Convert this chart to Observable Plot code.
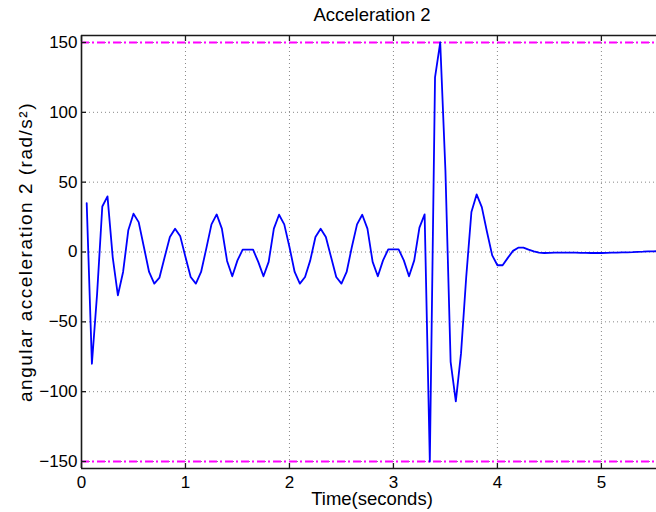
<!DOCTYPE html>
<html>
<head>
<meta charset="utf-8">
<script src="https://cdn.jsdelivr.net/npm/d3@7"></script>
<script src="https://cdn.jsdelivr.net/npm/@observablehq/plot@0.6"></script>
<style>
  html, body { margin: 0; padding: 0; background: white; }
</style>
</head>
<body>
<div id="chart"></div>
<script>
const titleText = "Acceleration 2";
const xLabel = "Time(seconds)";
const yLabel = "angular acceleration 2 (rad/s²)";

const xTicks = [0, 1, 2, 3, 4, 5];
const yTicks = [-150, -100, -50, 0, 50, 100, 150];
const xDomain = [0, 5.53];
const yDomain = [-155, 155];
const limits = [-150, 150];

const times = [
  0.05, 0.10, 0.15, 0.20, 0.25, 0.30, 0.35, 0.40, 0.45, 0.50,
  0.55, 0.60, 0.65, 0.70, 0.75, 0.80, 0.85, 0.90, 0.95, 1.00,
  1.05, 1.10, 1.15, 1.20, 1.25, 1.30, 1.35, 1.40, 1.45, 1.50,
  1.55, 1.60, 1.65, 1.70, 1.75, 1.80, 1.85, 1.90, 1.95, 2.00,
  2.05, 2.10, 2.15, 2.20, 2.25, 2.30, 2.35, 2.40, 2.45, 2.50,
  2.55, 2.60, 2.65, 2.70, 2.75, 2.80, 2.85, 2.90, 2.95, 3.00,
  3.05, 3.10, 3.15, 3.20, 3.25, 3.30, 3.35, 3.40, 3.45, 3.50,
  3.55, 3.60, 3.65, 3.70, 3.75, 3.80, 3.85, 3.90, 3.95, 4.00,
  4.05, 4.10, 4.15, 4.20, 4.25, 4.30, 4.35, 4.40, 4.45, 4.50,
  4.55, 4.60, 4.65, 4.70, 4.75, 4.80, 4.85, 4.90, 4.95, 5.00,
  5.05, 5.10, 5.15, 5.20, 5.25, 5.30, 5.35, 5.40, 5.45, 5.50,
  5.55
];
const accel = [
  35, -80, -30, 32.6, 39.8, -3.6, -31, -14.3, 15.5, 27.4,
  21.4, 3.6, -14.3, -22.6, -18.3, -3.6, 10.7, 16.7, 11.2, -3.6,
  -17.9, -22.6, -14.3, 2.4, 19.8, 26.9, 16.7, -6.4, -17.4, -6,
  1.7, 1.7, 1.7, -7.1, -17.4, -7.1, 16.7, 26.7, 19.8, 3.6,
  -14.3, -22.6, -17.9, -6, 10.7, 16.7, 10.7, -3.6, -17.9, -22.6,
  -14.3, 3.6, 19.8, 26.7, 16.7, -7.1, -17.4, -6, 1.9, 1.9,
  1.9, -6, -17.4, -6, 17.4, 26.9, -150, 125, 150, 58.3,
  -78.6, -107, -72.6, -17.9, 28.6, 41.2, 32.1, 14.3, -2.4, -9.5,
  -9.5, -4.2, 0.8, 3.1, 3.1, 1.7, 0.5, -0.4, -0.7, -0.6,
  -0.5, -0.4, -0.4, -0.4, -0.5, -0.6, -0.6, -0.7, -0.7, -0.7,
  -0.6, -0.5, -0.4, -0.3, -0.2, -0.1, 0.1, 0.2, 0.4, 0.5,
  0.6
];

const rows = times.map((t, i) => ({t, a: accel[i]}));
const fmt = d => d < 0 ? "\u2212" + Math.abs(d) : String(d);
const axisColor = "#1a1a1a";

const chart = Plot.plot({
  width: 656,
  height: 512,
  marginLeft: 81,
  marginRight: 0,
  marginTop: 35,
  marginBottom: 44,
  style: {fontFamily: "'Liberation Sans', Arial, Helvetica, sans-serif", fontSize: "17px", background: "white", color: "black", overflow: "visible"},
  x: {domain: xDomain, ticks: xTicks},
  y: {domain: yDomain, ticks: yTicks},
  marks: [
    Plot.gridX(xTicks, {stroke: "#888", strokeOpacity: 1, strokeWidth: 1, strokeDasharray: "1,3"}),
    Plot.gridY(yTicks, {stroke: "#888", strokeOpacity: 1, strokeWidth: 1, strokeDasharray: "1,3"}),
    Plot.ruleY(limits, {stroke: "#ff00ff", strokeWidth: 2, strokeDasharray: "8,3,2,3"}),
    Plot.line(rows, {x: "t", y: "a", stroke: "#0000ff", strokeWidth: 1.8, clip: true}),
    Plot.ruleY(yDomain, {stroke: axisColor, strokeWidth: 1.6}),
    Plot.ruleX([xDomain[0]], {stroke: axisColor, strokeWidth: 1.6}),
    Plot.axisX(xTicks, {anchor: "bottom", tickSize: -5, tickPadding: 12, tickFormat: fmt, label: null, stroke: axisColor, strokeWidth: 1.3, fontSize: 17, fill: "black"}),
    Plot.axisX(xTicks, {anchor: "top", tickSize: -5, tickFormat: () => "", label: null, stroke: axisColor, strokeWidth: 1.3}),
    Plot.axisY(yTicks, {anchor: "left", tickSize: -5, tickPadding: 9, tickFormat: fmt, label: null, stroke: axisColor, strokeWidth: 1.3, fontSize: 17, fill: "black"}),
    Plot.text([titleText], {frameAnchor: "top", lineAnchor: "bottom", dy: -15, dx: 3, fontSize: 18.5, fill: "black"}),
    Plot.text([xLabel], {frameAnchor: "bottom", lineAnchor: "bottom", dy: 36, dx: 3, fontSize: 18.5, fill: "black"}),
    Plot.text([yLabel], {frameAnchor: "left", textAnchor: "middle", lineAnchor: "bottom", rotate: -90, dx: -50, fontSize: 19, fill: "black"})
  ]
});
d3.select(chart).selectAll("text").filter(function() { return this.textContent === yLabel; })
  .attr("letter-spacing", "1.5px");
document.getElementById("chart").appendChild(chart);
</script>
</body>
</html>
